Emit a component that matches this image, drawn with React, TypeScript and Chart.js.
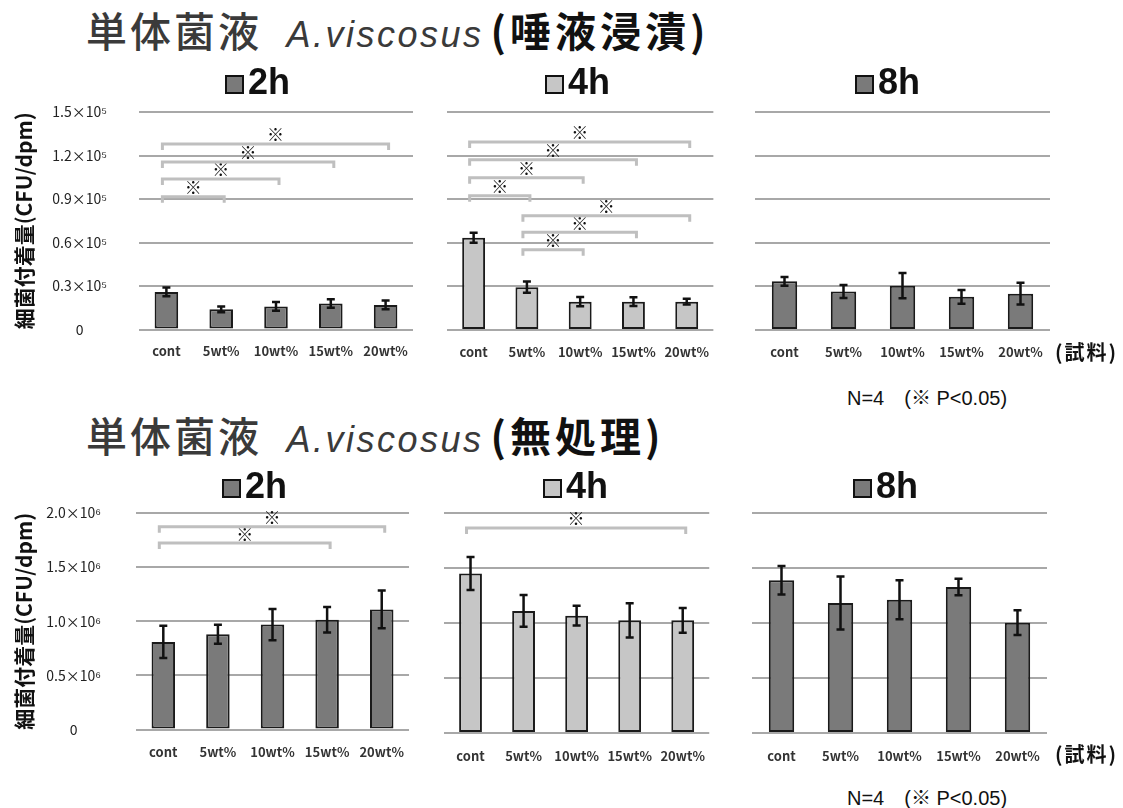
import React, { useEffect, useRef } from 'react';
import { Chart, registerables } from 'chart.js';

Chart.register(...registerables);

// x categories shared by every panel
const samples = ['cont', '5wt%', '10wt%', '15wt%', '20wt%'];

// 唾液浸漬 (saliva-soaked) — CFU/dpm
const salivaTickLabels = ['0', '0.3×10⁵', '0.6×10⁵', '0.9×10⁵', '1.2×10⁵', '1.5×10⁵'];
const saliva2h = [26000, 14000, 16000, 18000, 17000];
const saliva2hSd = [3000, 2000, 3000, 3000, 3000];
const saliva4h = [63500, 29500, 19500, 19500, 19500];
const saliva4hSd = [3500, 3800, 3200, 3000, 2000];
const saliva8h = [33500, 26500, 30500, 22800, 25000];
const saliva8hSd = [3000, 4500, 8700, 4800, 7500];
// significant pairs: [from index, to index, bracket level]
const saliva2hSig = [[0, 1, 91500], [0, 2, 103900], [0, 3, 115600], [0, 4, 128000]];
const saliva4hSig = [
  [0, 1, 92400], [0, 2, 104800], [0, 3, 117200], [0, 4, 129400],
  [1, 2, 55300], [1, 3, 67200], [1, 4, 78600],
];

// 無処理 (untreated) — CFU/dpm
const plainTickLabels = ['0', '0.5×10⁶', '1.0×10⁶', '1.5×10⁶', '2.0×10⁶'];
const plain2h = [810000, 880000, 970000, 1015000, 1110000];
const plain2hSd = [150000, 88000, 144000, 118000, 174000];
const plain4h = [1450000, 1110000, 1067000, 1024000, 1024000];
const plain4hSd = [150000, 144000, 90000, 155000, 113000];
const plain8h = [1388000, 1182000, 1212000, 1327000, 1003000];
const plain8hSd = [130000, 240000, 177000, 75000, 113000];
const plain2hSig = [[0, 3, 1722000], [0, 4, 1873000]];
const plain4hSig = [[0, 4, 1864000]];

const DARK = '#7a7a7a';
const LIGHT = '#c6c6c6';
const CJK = "'Noto Sans CJK JP', sans-serif";

const errorBarPlugin = {
  id: 'errorBars',
  afterDatasetsDraw(chart: any, _args: any, opts: any) {
    const errs: number[] = opts.values || [];
    const meta = chart.getDatasetMeta(0);
    const vals = chart.data.datasets[0].data;
    const y = chart.scales.y;
    const ctx = chart.ctx;
    ctx.save();
    ctx.strokeStyle = '#111';
    ctx.lineWidth = 2.5;
    meta.data.forEach((bar: any, i: number) => {
      const e = errs[i];
      if (e == null) return;
      const hi = y.getPixelForValue(vals[i] + e);
      const lo = y.getPixelForValue(vals[i] - e);
      ctx.beginPath();
      ctx.moveTo(bar.x, hi);
      ctx.lineTo(bar.x, lo);
      ctx.moveTo(bar.x - 4, hi);
      ctx.lineTo(bar.x + 4, hi);
      ctx.moveTo(bar.x - 4, lo);
      ctx.lineTo(bar.x + 4, lo);
      ctx.stroke();
    });
    ctx.restore();
  },
};

const sigPlugin = {
  id: 'sigBrackets',
  afterDatasetsDraw(chart: any, _args: any, opts: any) {
    const pairs: number[][] = opts.pairs || [];
    const x = chart.scales.x;
    const y = chart.scales.y;
    const ctx = chart.ctx;
    ctx.save();
    pairs.forEach(([a, b, level]) => {
      const x1 = x.getPixelForValue(a) - 4;
      const x2 = x.getPixelForValue(b) + 3;
      const yy = y.getPixelForValue(level);
      ctx.strokeStyle = '#bfbfbf';
      ctx.lineWidth = 3;
      ctx.beginPath();
      ctx.moveTo(x1, yy + 6);
      ctx.lineTo(x1, yy);
      ctx.lineTo(x2, yy);
      ctx.lineTo(x2, yy + 6);
      ctx.stroke();
      ctx.fillStyle = '#111';
      ctx.font = `17px ${CJK}`;
      ctx.textAlign = 'center';
      ctx.textBaseline = 'middle';
      ctx.fillText('※', (x1 + x2) / 2, yy - 9);
    });
    ctx.restore();
  },
};

const seriesKeyPlugin = {
  id: 'seriesKey',
  afterDraw(chart: any, _args: any, opts: any) {
    const ds = chart.data.datasets[0];
    const { left, top } = chart.chartArea;
    const ctx = chart.ctx;
    const base = top - opts.gap;
    const bx = left + opts.offset;
    ctx.save();
    ctx.fillStyle = ds.backgroundColor;
    ctx.fillRect(bx, base - 19, 19, 19);
    ctx.strokeStyle = '#111';
    ctx.lineWidth = 2;
    ctx.strokeRect(bx + 1, base - 18, 17, 17);
    ctx.fillStyle = '#111';
    ctx.font = "bold 36px 'Liberation Sans', sans-serif";
    ctx.textAlign = 'left';
    ctx.textBaseline = 'alphabetic';
    ctx.fillText(ds.label, bx + 23, base);
    ctx.restore();
  },
};

type PanelSpec = {
  id: string;
  label: string;
  values: number[];
  sd: number[];
  sig: number[][];
  color: string;
  max: number;
  step: number;
  tickLabels: string[];
  showAxis: boolean;
  axisWidth: number;
  tickPad: number;
  xPad: number;
  keyOffset: number;
  keyGap: number;
  box: { left: number; top: number; width: number; height: number };
};

const PAD_TOP = 55;
const X_AXIS_H = 40;

const panels: PanelSpec[] = [
  { id: 's2h', label: '2h', values: saliva2h, sd: saliva2hSd, sig: saliva2hSig, color: DARK, max: 150000, step: 30000, tickLabels: salivaTickLabels, showAxis: true, axisWidth: 139, tickPad: 32, xPad: 14, keyOffset: 86, keyGap: 18, box: { left: 0, top: 57, width: 423, height: 313 } },
  { id: 's4h', label: '4h', values: saliva4h, sd: saliva4hSd, sig: saliva4hSig, color: LIGHT, max: 150000, step: 30000, tickLabels: salivaTickLabels, showAxis: false, axisWidth: 0, tickPad: 0, xPad: 14, keyOffset: 98, keyGap: 18, box: { left: 437, top: 57, width: 287, height: 313 } },
  { id: 's8h', label: '8h', values: saliva8h, sd: saliva8hSd, sig: [], color: DARK, max: 150000, step: 30000, tickLabels: salivaTickLabels, showAxis: false, axisWidth: 0, tickPad: 0, xPad: 14, keyOffset: 100, keyGap: 18, box: { left: 745, top: 57, width: 315, height: 313 } },
  { id: 'p2h', label: '2h', values: plain2h, sd: plain2hSd, sig: plain2hSig, color: DARK, max: 2000000, step: 500000, tickLabels: plainTickLabels, showAxis: true, axisWidth: 136, tickPad: 35, xPad: 15, keyOffset: 86, keyGap: 15, box: { left: 0, top: 458, width: 420, height: 315 } },
  { id: 'p4h', label: '4h', values: plain4h, sd: plain4hSd, sig: plain4hSig, color: LIGHT, max: 2000000, step: 500000, tickLabels: plainTickLabels, showAxis: false, axisWidth: 0, tickPad: 0, xPad: 15, keyOffset: 99, keyGap: 15, box: { left: 434, top: 458, width: 287, height: 315 } },
  { id: 'p8h', label: '8h', values: plain8h, sd: plain8hSd, sig: [], color: DARK, max: 2000000, step: 500000, tickLabels: plainTickLabels, showAxis: false, axisWidth: 0, tickPad: 0, xPad: 15, keyOffset: 101, keyGap: 15, box: { left: 742, top: 458, width: 315, height: 315 } },
];

function BarPanel({ spec }: { spec: PanelSpec }) {
  const ref = useRef<HTMLCanvasElement | null>(null);
  useEffect(() => {
    if (!ref.current) return;
    const chart = new Chart(ref.current, {
      type: 'bar',
      data: {
        labels: samples,
        datasets: [
          {
            label: spec.label,
            data: spec.values,
            backgroundColor: spec.color,
            borderColor: '#1a1a1a',
            borderWidth: 2,
            borderSkipped: false,
            barPercentage: 0.43,
            categoryPercentage: 1,
          },
        ],
      },
      options: {
        responsive: false,
        animation: false,
        devicePixelRatio: 1,
        layout: { padding: { top: PAD_TOP, left: spec.showAxis ? 0 : 10, right: 10, bottom: 0 } },
        plugins: {
          legend: { display: false },
          tooltip: { enabled: false },
          errorBars: { values: spec.sd },
          sigBrackets: { pairs: spec.sig },
          seriesKey: { offset: spec.keyOffset, gap: spec.keyGap },
        } as any,
        scales: {
          x: {
            grid: { display: false, drawTicks: false },
            border: { display: false },
            ticks: { padding: spec.xPad, color: '#333', font: { family: CJK, size: 13, weight: 'bold' } },
            afterFit: (s: any) => {
              s.height = X_AXIS_H;
            },
          },
          y: {
            min: 0,
            max: spec.max,
            grid: { color: '#a8a8a8', lineWidth: 2, drawTicks: false },
            border: { display: false },
            ticks: {
              display: spec.showAxis,
              stepSize: spec.step,
              crossAlign: 'center',
              padding: spec.tickPad,
              color: '#222',
              font: { family: CJK, size: 14 },
              callback: (_v: any, i: number) => spec.tickLabels[i],
            },
            title: {
              display: spec.showAxis,
              text: '細菌付着量(CFU/dpm)',
              color: '#111',
              font: { family: CJK, size: 21, weight: 'bold' },
              padding: { top: 11, bottom: 0 },
            },
            afterFit: (s: any) => {
              s.width = spec.axisWidth;
            },
          },
        },
      } as any,
      plugins: [errorBarPlugin, sigPlugin, seriesKeyPlugin] as any,
    });
    return () => chart.destroy();
  }, [spec]);
  const { left, top, width, height } = spec.box;
  return (
    <canvas
      ref={ref}
      width={width}
      height={height}
      style={{ position: 'absolute', left, top, width, height }}
    />
  );
}

function Heading({ top, condition }: { top: number; condition: string }) {
  return (
    <div
      style={{
        position: 'absolute',
        left: 86,
        top,
        whiteSpace: 'pre',
        lineHeight: 1,
        fontSize: 41,
        fontFamily: CJK,
      }}
    >
      <span style={{ fontWeight: 500, color: '#3a3a3a', letterSpacing: 3 }}>単体菌液</span>
      <span
        style={{
          fontFamily: "'Liberation Sans', sans-serif",
          fontStyle: 'italic',
          fontSize: 36,
          letterSpacing: 2.5,
          color: '#3a3a3a',
          marginLeft: 12,
        }}
      > A.viscosus</span>
      <span style={{ fontWeight: 700, color: '#111', letterSpacing: 4, marginLeft: 7 }}>{condition}</span>
    </div>
  );
}

function Note({ left, top, size, bold, text }: { left: number; top: number; size: number; bold?: boolean; text: string }) {
  return (
    <div
      style={{
        position: 'absolute',
        left,
        top,
        whiteSpace: 'pre',
        lineHeight: 1,
        fontSize: size,
        fontWeight: bold ? 700 : 400,
        letterSpacing: bold ? 2 : 0,
        color: '#111',
        fontFamily: bold ? CJK : "'Liberation Sans', 'Noto Sans CJK JP', sans-serif",
      }}
    >
      {text}
    </div>
  );
}

export default function App() {
  return (
    <div
      style={{
        position: 'absolute',
        left: 0,
        top: 0,
        width: 1123,
        height: 808,
        background: '#fff',
        overflow: 'hidden',
      }}
    >
      <Heading top={9} condition="(唾液浸漬)" />
      <Heading top={414} condition="(無処理)" />
      {panels.map((p) => (
        <BarPanel key={p.id} spec={p} />
      ))}
      <Note left={1055} top={342} size={20} bold text="(試料)" />
      <Note left={1055} top={744} size={20} bold text="(試料)" />
      <Note left={847} top={388} size={20} text="N=4　(※ P<0.05)" />
      <Note left={847} top={788} size={20} text="N=4　(※ P<0.05)" />
    </div>
  );
}
